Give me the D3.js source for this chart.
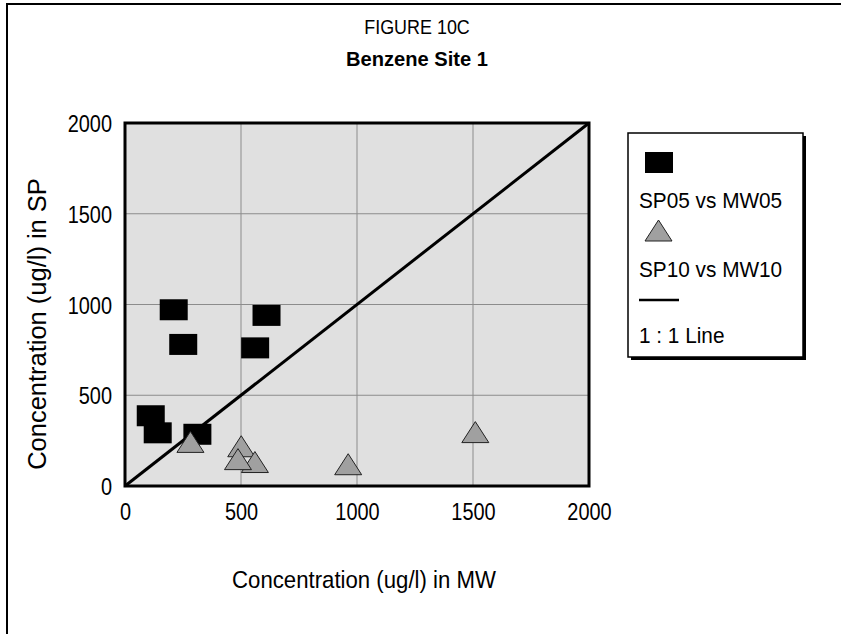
<!DOCTYPE html>
<html>
<head>
<meta charset="utf-8">
<script src="https://cdn.jsdelivr.net/npm/d3@7"></script>
<style>
  html, body { margin: 0; padding: 0; background: #fff; }
  svg { display: block; font-family: "Liberation Sans", Arial, sans-serif; }
</style>
</head>
<body>
<svg id="chart" width="841" height="634"></svg>
<script>
// Benzene concentrations (ug/l): monitoring well (x) vs. sampling point (y)
const sp05X = [210, 610, 251, 561, 111, 141, 312];
const sp05Y = [971, 940, 780, 761, 387, 293, 285];

const sp10X = [282, 501, 560, 487, 1510, 962];
const sp10Y = [243, 219, 132, 148, 297, 120];

const oneToOne = [0, 2000];
const tickValues = [0, 500, 1000, 1500, 2000];

const seriesNames = ["SP05 vs MW05", "SP10 vs MW10", "1 : 1 Line"];

const svg = d3.select("#chart");

// condensed text: placed at (x, y), glyphs narrowed by k
function label(parent, x, y, str, size, k, opts = {}) {
  const t = parent.append("g").attr("transform", `translate(${x},${y})${opts.rotate ? " rotate(-90)" : ""}`)
    .append("text")
    .attr("transform", `scale(${k},1)`)
    .attr("text-anchor", opts.anchor || "start")
    .attr("font-size", size)
    .attr("fill", "#000")
    .text(str);
  if (opts.bold) t.attr("font-weight", "bold");
  return t;
}

// outer frame
svg.append("path")
  .attr("d", "M7,640 L7,4 L850,4")
  .attr("fill", "none").attr("stroke", "#000").attr("stroke-width", 2);

// titles
label(svg, 417, 34, "FIGURE 10C", 19.5, 0.92, { anchor: "middle" });
label(svg, 417, 65.5, "Benzene Site 1", 21, 0.958, { anchor: "middle", bold: true });

const L = 125, R = 589, T = 123, B = 486;
const x = d3.scaleLinear().domain([0, 2000]).range([L, R]);
const y = d3.scaleLinear().domain([0, 2000]).range([B, T]);

// plot background
svg.append("rect").attr("x", L).attr("y", T).attr("width", R - L).attr("height", B - T)
  .attr("fill", "#e0e0e0");

// grid
const g = svg.append("g");
g.selectAll("line.vx").data(tickValues.slice(1, -1)).join("line")
  .attr("x1", d => x(d)).attr("x2", d => x(d)).attr("y1", T).attr("y2", B)
  .attr("stroke", "#8c8c8c").attr("stroke-width", 1);
g.selectAll("line.hy").data(tickValues.slice(1, -1)).join("line")
  .attr("y1", d => y(d)).attr("y2", d => y(d)).attr("x1", L).attr("x2", R)
  .attr("stroke", "#8c8c8c").attr("stroke-width", 1);

// axes (labels only)
const fmt = d3.format("d");
const xAxis = d3.axisBottom(x).tickValues(tickValues).tickFormat(fmt).tickSize(0).tickPadding(0);
const yAxis = d3.axisLeft(y).tickValues(tickValues).tickFormat(fmt).tickSize(0).tickPadding(0);
const xa = svg.append("g").attr("transform", `translate(0,${B + 33.6})`).call(xAxis);
const ya = svg.append("g").attr("transform", `translate(${L - 13},0)`).call(yAxis);
[xa, ya].forEach(a => {
  a.attr("font-size", null).attr("font-family", null);
  a.select(".domain").remove();
  a.selectAll("text")
    .attr("x", 0).attr("y", 0).attr("dy", null)
    .attr("font-size", 24).attr("fill", "#000")
    .attr("transform", "scale(0.83,1)");
});
ya.selectAll("text").attr("y", 8.6);

// axis titles
label(svg, 364, 588, "Concentration (ug/l) in MW", 24, 0.925, { anchor: "middle" });
label(svg, 46, 324, "Concentration (ug/l) in SP", 26, 0.98, { anchor: "middle", rotate: true });

// markers
const sqW = 28, sqH = 21, triW = 27, triH = 21;
const triPath = (cx, cy) =>
  `M${cx - triW / 2},${cy + triH / 2} L${cx},${cy - triH / 2} L${cx + triW / 2},${cy + triH / 2} Z`;

svg.append("g").selectAll("rect").data(d3.range(sp05X.length)).join("rect")
  .attr("x", i => x(sp05X[i]) - sqW / 2).attr("y", i => y(sp05Y[i]) - sqH / 2)
  .attr("width", sqW).attr("height", sqH).attr("fill", "#000");

svg.append("line")
  .attr("x1", x(oneToOne[0])).attr("y1", y(oneToOne[0]))
  .attr("x2", x(oneToOne[1])).attr("y2", y(oneToOne[1]))
  .attr("stroke", "#000").attr("stroke-width", 3);

svg.append("g").selectAll("path").data(d3.range(sp10X.length)).join("path")
  .attr("d", i => triPath(x(sp10X[i]), y(sp10Y[i])))
  .attr("fill", "#a0a0a0").attr("stroke", "#222").attr("stroke-width", 1);

// plot border
svg.append("rect").attr("x", L).attr("y", T).attr("width", R - L).attr("height", B - T)
  .attr("fill", "none").attr("stroke", "#000").attr("stroke-width", 3);

// legend
const lg = svg.append("g");
lg.append("rect").attr("x", 631).attr("y", 136).attr("width", 175).attr("height", 224).attr("fill", "#000");
lg.append("rect").attr("x", 628).attr("y", 133).attr("width", 175).attr("height", 224)
  .attr("fill", "#fff").attr("stroke", "#000").attr("stroke-width", 1.5);
lg.append("rect").attr("x", 645).attr("y", 152).attr("width", sqW).attr("height", sqH).attr("fill", "#000");
lg.append("path").attr("d", triPath(658.5, 230.5)).attr("fill", "#a0a0a0").attr("stroke", "#222");
lg.append("line").attr("x1", 639).attr("x2", 679).attr("y1", 300).attr("y2", 300)
  .attr("stroke", "#000").attr("stroke-width", 2.5);
seriesNames.forEach((name, i) => {
  label(lg, 639, [208, 277, 343][i], name, 22, 0.945);
});
</script>
</body>
</html>
